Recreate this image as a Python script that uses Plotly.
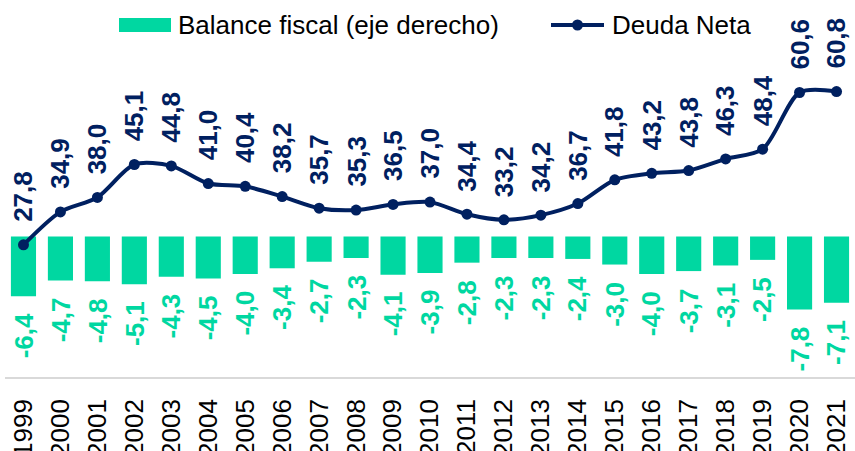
import plotly.graph_objects as go

years = [str(y) for y in range(1999, 2022)]
deuda_neta = [27.8, 34.9, 38.0, 45.1, 44.8, 41.0, 40.4, 38.2, 35.7, 35.3, 36.5, 37.0,
              34.4, 33.2, 34.2, 36.7, 41.8, 43.2, 43.8, 46.3, 48.4, 60.6, 60.8]
balance_fiscal = [-6.4, -4.7, -4.8, -5.1, -4.3, -4.5, -4.0, -3.4, -2.7, -2.3, -4.1, -3.9,
                  -2.8, -2.3, -2.3, -2.4, -3.0, -4.0, -3.7, -3.1, -2.5, -7.8, -7.1]

GREEN = "#00D7A1"
NAVY = "#002060"
FONT = "Liberation Sans, Arial, sans-serif"


def fmt(v):
    return f"{v:.1f}".replace(".", ",")


fig = go.Figure()
fig.add_trace(go.Bar(
    x=years, y=balance_fiscal, name="Balance fiscal (eje derecho)",
    marker=dict(color=GREEN, line=dict(width=0)), width=0.68,
    yaxis="y", showlegend=False, hoverinfo="x+y",
))
fig.add_trace(go.Scatter(
    x=years, y=deuda_neta, name="Deuda Neta", mode="lines+markers",
    line=dict(color=NAVY, width=4, shape="spline", smoothing=0.8),
    marker=dict(color=NAVY, size=11),
    yaxis="y2", showlegend=False,
))

annotations = []
# category axis: annotation x uses the category serial index
for i, v in enumerate(deuda_neta):
    annotations.append(dict(
        x=i, y=v, xref="x", yref="y2", text=f"<b>{fmt(v)}</b>", showarrow=False,
        textangle=-90, yanchor="bottom", xanchor="center", yshift=21,
        font=dict(family=FONT, size=26, color=NAVY),
    ))
for i, v in enumerate(balance_fiscal):
    annotations.append(dict(
        x=i, y=v, xref="x", yref="y", text=f"<b>{fmt(v)}</b>", showarrow=False,
        textangle=-90, yanchor="top", xanchor="center", yshift=-15,
        font=dict(family=FONT, size=26, color=GREEN),
    ))

# manual legend (pixel layout: plot area x 5..855, y 40..377)
def px(xp):
    return (xp - 5) / 850.0


def py(yp):
    return (377 - yp) / 337.0


annotations.append(dict(
    x=px(176), y=py(25), xref="paper", yref="paper", text="Balance fiscal (eje derecho)",
    showarrow=False, xanchor="left", yanchor="middle",
    font=dict(family=FONT, size=26, color="#000000"),
))
annotations.append(dict(
    x=px(610), y=py(25), xref="paper", yref="paper", text="Deuda Neta",
    showarrow=False, xanchor="left", yanchor="middle",
    font=dict(family=FONT, size=26, color="#000000"),
))
shapes = [
    dict(type="rect", xref="paper", yref="paper", x0=px(119), x1=px(171), y0=py(32), y1=py(18),
         fillcolor=GREEN, line=dict(width=0)),
    dict(type="line", xref="paper", yref="paper", x0=px(551), x1=px(604), y0=py(25), y1=py(25),
         line=dict(color=NAVY, width=4)),
    dict(type="circle", xref="paper", yref="paper", x0=px(572), x1=px(583), y0=py(30.5), y1=py(19.5),
         fillcolor=NAVY, line=dict(width=0)),
]

hidden_axis = dict(showgrid=False, zeroline=False, showline=False, showticklabels=False,
                   ticks="", automargin=False)

fig.update_layout(
    width=855, height=451,
    margin=dict(l=5, r=0, t=40, b=74, pad=0),
    paper_bgcolor="white", plot_bgcolor="white",
    font=dict(family=FONT, size=26, color="#000000"),
    showlegend=False,
    xaxis=dict(
        type="category", showgrid=False, zeroline=False, automargin=False,
        showline=True, linecolor="#D9D9D9", linewidth=1.5,
        ticks="", tickangle=-90, ticklabelstandoff=10,
        tickfont=dict(family=FONT, size=26, color="#000000"),
        range=[-0.5, 22.5],
    ),
    yaxis=dict(range=[-15.03, 21.02], **hidden_axis),
    yaxis2=dict(range=[-0.646, 71.9], overlaying="y", side="right", **hidden_axis),
    annotations=annotations,
    shapes=shapes,
)

fig.write_html("out.html", config={"displayModeBar": False},
               post_script="document.body.style.margin='0px';")
